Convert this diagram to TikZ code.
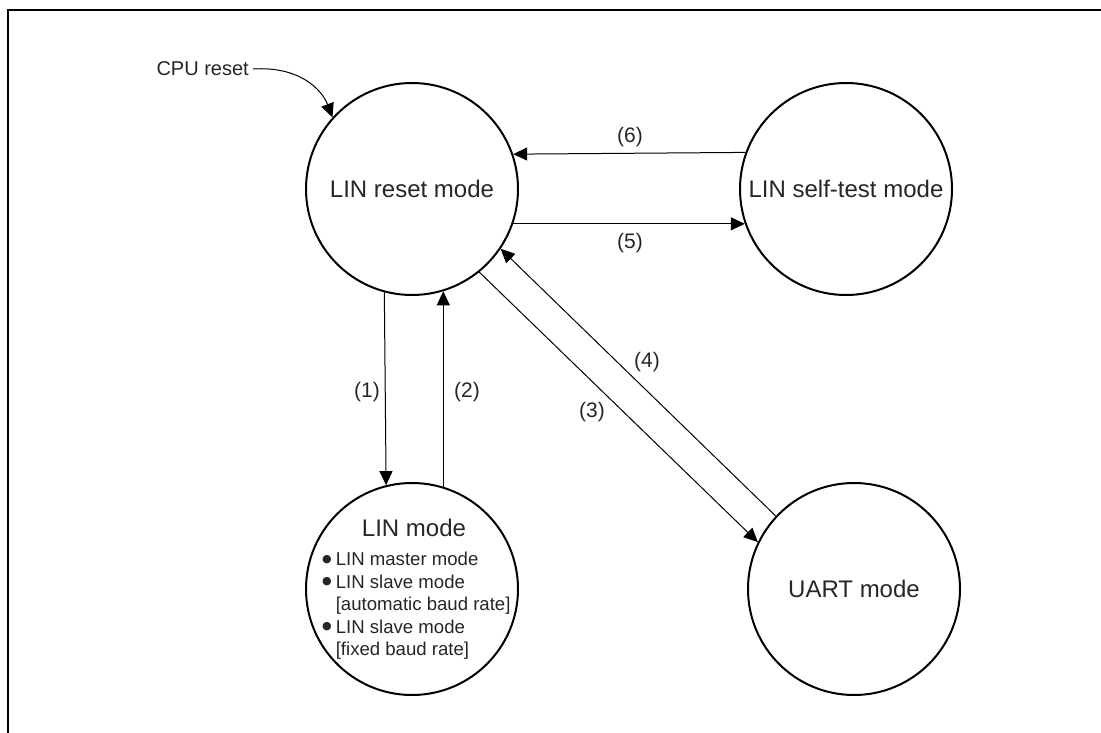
\documentclass[tikz,border=0pt]{standalone}
\usepackage{fontspec}
\setmainfont{Liberation Sans}
\newfontfamily\djv{DejaVu Sans}
\usetikzlibrary{arrows.meta}
\newcommand\myblt{\raisebox{3.2pt}{\djv\fontsize{11}{12}\selectfont ●}\hspace{4pt}}
\newcommand\myind{\phantom{\myblt}}
\tikzset{
  state/.style={circle, draw, line width=2pt, minimum size=212pt, inner sep=0pt, font=\fontsize{24}{28}\selectfont, text=black!85},
  conn/.style={line width=1pt, -{Triangle[length=14pt,width=13pt]}},
  lbl/.style={font=\fontsize{21}{24}\selectfont, text=black!85, inner sep=0pt},
  frame/.style={line width=2pt}
}
\begin{document}
\begin{tikzpicture}[x=1pt,y=-1pt]
\useasboundingbox (0,0) rectangle (1101,733);
\draw[frame] (8,733) -- (8,10) -- (1101,10);

\node[state] (reset) at (412,189) {LIN reset mode};
\node[state] (self) at (846,189) {LIN self-test mode};
\node[state] (lin) at (412,589) {};
\node[state] (uart) at (854,589) {UART mode};

\node[font=\fontsize{24}{28}\selectfont, text=black!85, inner sep=0pt] (lintitle) at (414,528) {LIN mode};
\node[font=\fontsize{18.6}{22.5}\selectfont, text=black!85, align=left, anchor=north west, inner sep=0pt] (linlist) at (322,552)
  {\myblt LIN master mode\\
   \myblt LIN slave mode\\
   \myind[automatic baud rate]\\
   \myblt LIN slave mode\\
   \myind[fixed baud rate]};

\node[lbl, anchor=east, inner sep=4pt, font=\fontsize{20}{23}\selectfont] (cpu) at (253,69) {CPU reset};
\draw[line width=1pt, -{Triangle[length=14pt,width=13pt]}] (cpu.east) .. controls (300,66) and (322,90) .. (reset.138.4);

% (1) and (2)
\draw[conn] (reset.255.24) -- (lin.104.76);
\draw[conn] (lin.73) -- (reset.287);
\node[lbl] (l1) at (367,392) {(1)};
\node[lbl] (l2) at (467,392) {(2)};

% (5) and (6)
\draw[conn] (self.160.15) -- (reset.19.85);
\draw[conn] (reset.-19.85) -- (self.199.85);
\node[lbl] (l6) at (630,137) {(6)};
\node[lbl] (l5) at (630,243) {(5)};

% (3) and (4)
\draw[conn] (reset.-51.4) -- (uart.154.2);
\draw[conn] (uart.137.7) -- (reset.-34.7);
\node[lbl] (l3) at (592,412) {(3)};
\node[lbl] (l4) at (647,362) {(4)};
\end{tikzpicture}
\end{document}
